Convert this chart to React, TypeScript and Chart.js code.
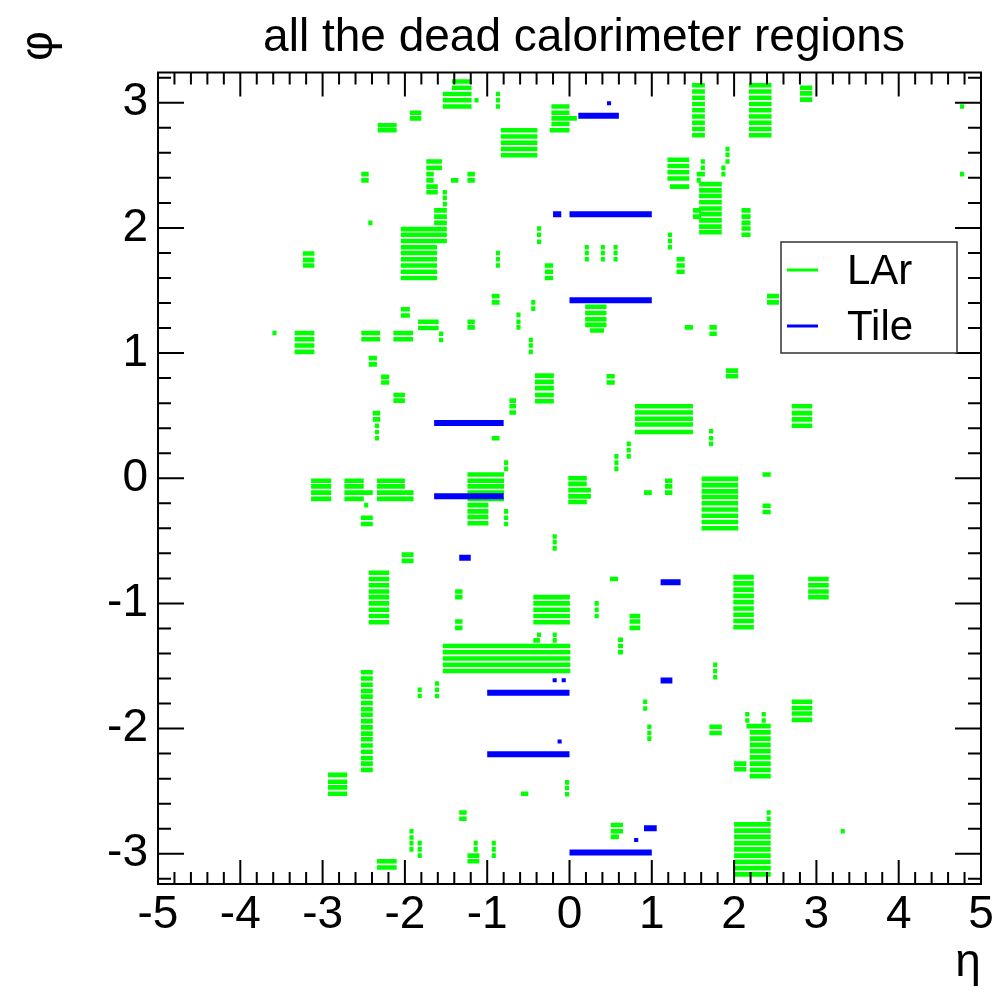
import React, { useEffect, useRef } from "react";
import { Chart, registerables } from "chart.js";

Chart.register(...registerables);

const FONT = '"Liberation Sans", Arial, Helvetica, sans-serif';

// Dead LAr cells, grouped in rectangles: [etaMin, etaMax, phi of each dead row ...]
const larUpper: number[][] = [
  [-1.94, -1.8, 2.92, 2.875],
  [-2.33, -2.1, 2.82, 2.78],
  [-1.74, -1.55, 2.53, 2.48],
  [-1.74, -1.65, 2.43, 2.38],
  [-1.74, -1.6, 2.33, 2.285],
  [-2.53, -2.44, 2.43, 2.38],
  [-2.445, -2.395, 2.04],
  [-1.54, -1.49, 2.285, 2.24, 2.19],
  [-1.645, -1.49, 2.14, 2.09, 2.04],
  [-2.05, -1.49, 1.99, 1.945, 1.895],
  [-2.05, -1.61, 1.845, 1.8, 1.75, 1.7, 1.65, 1.6],
  [-3.24, -3.1, 1.795, 1.745, 1.7],
  [-1.43, -1.19, 3.17, 3.12],
  [-1.54, -1.19, 3.07, 3.02, 2.97],
  [-1.155, -1.105, 3.02],
  [-0.895, -0.845, 3.07, 3.02, 2.97],
  [-0.22, 0.0, 2.97, 2.92],
  [-0.22, 0.09, 2.875],
  [-0.22, 0.0, 2.83],
  [-0.24, 0.0, 2.78],
  [-0.835, -0.39, 2.78, 2.73, 2.68, 2.63, 2.58],
  [-1.24, -1.15, 2.43, 2.38],
  [-1.44, -1.35, 2.38],
  [-0.395, -0.345, 1.995, 1.945, 1.89],
  [0.185, 0.235, 1.845, 1.8, 1.75],
  [0.38, 0.43, 1.845, 1.8, 1.75],
  [0.535, 0.585, 1.845, 1.8, 1.75],
  [-0.895, -0.845, 1.8, 1.75, 1.7],
  [-0.3, -0.2, 1.7, 1.65, 1.6],
  [1.195, 1.245, 1.945, 1.895, 1.845],
  [1.3, 1.4, 1.75, 1.7, 1.65],
  [1.19, 1.455, 2.545, 2.495, 2.445, 2.395],
  [1.22, 1.455, 2.33],
  [1.595, 1.645, 2.53, 2.48, 2.43],
  [1.545, 1.595, 2.43, 2.38],
  [1.575, 1.85, 2.35, 2.3, 2.255, 2.205, 2.155, 2.11, 2.06, 2.01, 1.965],
  [1.5, 1.6, 2.14, 2.09],
  [1.49, 1.645, 3.14, 3.09, 3.04, 2.99, 2.94, 2.89, 2.84, 2.79, 2.74],
  [2.18, 2.455, 3.14, 3.09, 3.04, 2.99, 2.94, 2.89, 2.84, 2.79, 2.74],
  [2.8, 2.95, 3.12, 3.075, 3.025],
  [4.745, 4.795, 2.97],
  [4.745, 4.795, 2.43],
  [1.895, 1.945, 2.63, 2.585, 2.53],
  [1.845, 1.895, 2.48, 2.43],
  [2.09, 2.2, 2.14, 2.09, 2.04, 1.995, 1.945],
];

const larMiddle: number[][] = [
  [-2.05, -1.94, 1.35, 1.3],
  [-1.84, -1.59, 1.25, 1.2],
  [-1.585, -1.535, 1.155, 1.105],
  [-3.61, -3.56, 1.16],
  [-3.34, -3.1, 1.16, 1.11, 1.06, 1.01],
  [-2.53, -2.3, 1.16, 1.11],
  [-2.14, -1.9, 1.16, 1.11],
  [0.19, 0.45, 1.37, 1.32, 1.27, 1.225],
  [0.25, 0.42, 1.18],
  [-0.945, -0.85, 1.455, 1.405],
  [-0.465, -0.415, 1.405, 1.355],
  [-0.645, -0.595, 1.305, 1.25, 1.205],
  [-1.24, -1.15, 1.25, 1.205],
  [-0.495, -0.445, 1.105, 1.06, 1.01],
  [1.4, 1.5, 1.205],
  [1.7, 1.79, 1.205, 1.155],
  [2.4, 2.545, 1.455, 1.405],
  [-2.44, -2.34, 0.96, 0.91],
  [-2.29, -2.19, 0.81, 0.765],
  [-2.14, -2.0, 0.665, 0.62],
  [-2.39, -2.3, 0.52, 0.47],
  [-2.365, -2.315, 0.42, 0.37, 0.32],
  [-0.42, -0.19, 0.82, 0.77, 0.72, 0.665, 0.615],
  [0.45, 0.55, 0.815, 0.765],
  [-0.73, -0.65, 0.62, 0.575, 0.525],
  [-0.945, -0.85, 0.32],
  [0.795, 1.5, 0.575, 0.525, 0.475, 0.43, 0.37],
  [1.695, 1.745, 0.375, 0.32, 0.275],
  [0.695, 0.745, 0.275, 0.225, 0.175],
  [0.545, 0.595, 0.175, 0.125, 0.075],
  [-0.795, -0.745, 0.125, 0.075],
  [1.9, 2.05, 0.86, 0.815],
  [2.7, 2.95, 0.575, 0.52, 0.47, 0.42],
  [2.345, 2.445, 0.03],
];

const larLower: number[][] = [
  [-3.14, -2.895, -0.02, -0.065, -0.115, -0.165],
  [-2.735, -2.5, -0.02, -0.065, -0.165],
  [-2.735, -2.39, -0.115],
  [-2.495, -2.445, -0.215],
  [-2.34, -2.0, -0.02, -0.065],
  [-2.34, -1.895, -0.115, -0.165],
  [-2.535, -2.39, -0.315, -0.365],
  [-2.04, -1.895, -0.61, -0.66],
  [-2.44, -2.19, -0.755, -0.805, -0.855, -0.905, -0.95, -1.0, -1.05, -1.1, -1.15],
  [-1.24, -0.795, 0.03, -0.02, -0.065, -0.115, -0.165],
  [-1.24, -0.985, -0.215, -0.265, -0.31, -0.36],
  [-0.795, -0.745, -0.265, -0.315, -0.365],
  [-0.015, 0.21, 0.0, -0.045, -0.19],
  [-0.015, 0.26, -0.095, -0.145],
  [0.905, 1.0, -0.115],
  [1.16, 1.25, -0.02, -0.065, -0.115],
  [1.605, 2.05, -0.005, -0.055, -0.105, -0.15, -0.2, -0.25, -0.3, -0.35, -0.4],
  [2.345, 2.445, -0.22, -0.27],
  [-0.205, -0.155, -0.465, -0.51, -0.56],
  [0.49, 0.59, -0.805],
  [-1.39, -1.3, -0.905, -0.95],
  [-0.44, 0.005, -0.95, -1.0, -1.05, -1.1, -1.15],
  [0.305, 0.355, -1.0, -1.05, -1.1],
  [0.73, 0.86, -1.1, -1.145, -1.195],
  [-1.39, -1.3, -1.145, -1.195],
  [1.99, 2.24, -0.79, -0.84, -0.89, -0.94, -0.99, -1.04, -1.09, -1.14, -1.19],
  [2.9, 3.15, -0.805, -0.855, -0.905, -0.95],
];

const larBottom: number[][] = [
  [-2.535, -2.39, -1.55, -1.6, -1.65, -1.7, -1.745, -1.795, -1.845, -1.89, -1.94, -1.99, -2.04, -2.085, -2.135, -2.185, -2.235, -2.28, -2.33],
  [-2.935, -2.7, -2.37, -2.425, -2.47, -2.52],
  [-1.945, -1.895, -2.82, -2.87, -2.915, -2.965],
  [-1.845, -1.795, -2.915, -2.965, -3.015],
  [-1.845, -1.795, -1.69, -1.74],
  [-1.635, -1.585, -1.64, -1.69, -1.74],
  [-2.34, -2.1, -3.06, -3.11],
  [-0.395, -0.345, -1.25],
  [-0.205, -0.155, -1.25, -1.295],
  [-0.44, -0.36, -1.295],
  [-1.54, 0.01, -1.34, -1.39, -1.44, -1.49, -1.54],
  [0.59, 0.65, -1.29, -1.34, -1.39],
  [1.745, 1.795, -1.49, -1.54, -1.59],
  [0.895, 0.945, -1.785, -1.84],
  [0.945, 0.995, -1.985, -2.035, -2.08],
  [1.7, 1.85, -1.985, -2.035],
  [-0.055, -0.005, -2.43, -2.475, -2.525],
  [-0.59, -0.5, -2.52],
  [-1.34, -1.25, -2.67, -2.72],
  [0.5, 0.65, -2.77, -2.82],
  [0.5, 0.6, -2.865],
  [-1.165, -1.115, -2.915, -2.965],
  [-0.945, -0.895, -2.915, -2.965, -3.015],
  [-1.24, -1.095, -3.015, -3.06],
  [2.0, 2.15, -2.28, -2.325],
  [2.135, 2.185, -1.885, -1.935],
  [2.335, 2.385, -1.885, -1.935],
  [2.15, 2.445, -1.98],
  [2.19, 2.445, -2.03, -2.08, -2.13, -2.18, -2.23, -2.28, -2.33, -2.38],
  [2.7, 2.95, -1.785, -1.835, -1.88, -1.93],
  [2.395, 2.445, -2.67, -2.72],
  [2.0, 2.445, -2.765, -2.815, -2.865, -2.915, -2.965, -3.015, -3.065, -3.115, -3.165],
  [3.295, 3.345, -2.82],
];

// Dead Tile cells: [etaMin, etaMax, phi]
const tileRows: number[][] = [
  [0.107, 0.6, 2.896],
  [-0.2, -0.1, 2.109],
  [0.0, 1.0, 2.109],
  [0.0, 1.0, 1.423],
  [-1.645, -0.8, 0.441],
  [-1.645, -0.8, -0.144],
  [-1.34, -1.2, -0.636],
  [1.107, 1.35, -0.83],
  [1.107, 1.25, -1.615],
  [-1.0, 0.0, -1.714],
  [-1.0, 0.0, -2.206],
  [0.905, 1.06, -2.797],
  [0.0, 1.0, -2.99],
];

const tileCells: number[][] = [
  [0.455, 0.505, 2.995],
  [-0.205, -0.155, -1.613],
  [-0.095, -0.045, -1.613],
  [-0.145, -0.095, -2.104],
  [0.785, 0.835, -2.89],
];

const etaTicks = [-5, -4, -3, -2, -1, 0, 1, 2, 3, 4, 5];
const phiTicks = [-3, -2, -1, 0, 1, 2, 3];
const ETA_MIN = -5;
const ETA_MAX = 5;
const PHI_MIN = -3.2416;
const PHI_MAX = 3.2416;

const legendItems = [
  { label: "LAr", color: "#00ff00" },
  { label: "Tile", color: "#0000ff" },
];

type Pt = { x: number; y: number | null };

// Each dead row becomes one horizontal stroke; a null point breaks the line.
function blockRows(blocks: number[][]): Pt[] {
  const pts: Pt[] = [];
  for (const [eta0, eta1, ...phis] of blocks) {
    for (const phi of phis) {
      pts.push({ x: eta0, y: phi }, { x: eta1, y: phi }, { x: eta1, y: null });
    }
  }
  return pts;
}

const rootFrame = {
  id: "rootFrame",
  afterDatasetsDraw(chart: any) {
    const { ctx, chartArea: a } = chart;
    const xs = chart.scales.x;
    const ys = chart.scales.y;
    ctx.save();
    ctx.strokeStyle = "#000";
    ctx.lineWidth = 2;
    ctx.beginPath();
    for (let i = -25; i <= 25; i++) {
      const px = xs.getPixelForValue(i / 5);
      const len = i % 5 === 0 ? 24 : 12;
      ctx.moveTo(px, a.top);
      ctx.lineTo(px, a.top + len);
      ctx.moveTo(px, a.bottom);
      ctx.lineTo(px, a.bottom - len);
    }
    for (let i = -16; i <= 16; i++) {
      const py = ys.getPixelForValue(i / 5);
      const len = i % 5 === 0 ? 26 : 13;
      ctx.moveTo(a.left, py);
      ctx.lineTo(a.left + len, py);
      ctx.moveTo(a.right, py);
      ctx.lineTo(a.right - len, py);
    }
    ctx.stroke();
    ctx.strokeRect(a.left, a.top, a.right - a.left, a.bottom - a.top);
    ctx.restore();
  },
  afterDraw(chart: any) {
    const { ctx } = chart;
    ctx.save();
    ctx.fillStyle = "#000";
    // title
    ctx.font = `46px ${FONT}`;
    ctx.textAlign = "center";
    ctx.textBaseline = "alphabetic";
    ctx.fillText("all the dead calorimeter regions", 584, 51);
    // axis titles
    ctx.fillText("η", 968, 976);
    ctx.save();
    ctx.translate(52, 46);
    ctx.rotate(-Math.PI / 2);
    ctx.textAlign = "center";
    ctx.fillText("φ", 0, 0);
    ctx.restore();
    // legend
    const bx = 781, by = 242, bw = 176, bh = 111;
    ctx.fillStyle = "#fff";
    ctx.fillRect(bx, by, bw, bh);
    ctx.strokeStyle = "#333";
    ctx.lineWidth = 1.5;
    ctx.strokeRect(bx, by, bw, bh);
    ctx.font = `42px ${FONT}`;
    ctx.textAlign = "left";
    legendItems.forEach((item, i) => {
      const cy = 270 + i * 56;
      ctx.strokeStyle = item.color;
      ctx.lineWidth = 3;
      ctx.beginPath();
      ctx.moveTo(787, cy);
      ctx.lineTo(818, cy);
      ctx.stroke();
      ctx.fillStyle = "#000";
      ctx.fillText(item.label, 847, cy + 14);
    });
    ctx.restore();
  },
};

export default function App() {
  const canvasRef = useRef<HTMLCanvasElement | null>(null);

  useEffect(() => {
    if (!canvasRef.current) return;
    const larPoints = [
      ...blockRows(larUpper),
      ...blockRows(larMiddle),
      ...blockRows(larLower),
      ...blockRows(larBottom),
    ];
    const tickFont = { family: FONT, size: 46 };
    const chart = new Chart(canvasRef.current, {
      type: "scatter",
      data: {
        datasets: [
          {
            label: "Tile",
            data: blockRows(tileRows),
            showLine: true,
            spanGaps: false,
            borderColor: "#0000ff",
            backgroundColor: "#0000ff",
            borderWidth: 6,
            borderCapStyle: "butt",
            pointRadius: 0,
            order: 1,
          },
          {
            label: "Tile cells",
            data: blockRows(tileCells),
            showLine: true,
            spanGaps: false,
            borderColor: "#0000ff",
            backgroundColor: "#0000ff",
            borderWidth: 4,
            borderCapStyle: "butt",
            pointRadius: 0,
            order: 2,
          },
          {
            label: "LAr",
            data: larPoints,
            showLine: true,
            spanGaps: false,
            borderColor: "#00ff00",
            backgroundColor: "#00ff00",
            borderWidth: 4.6,
            borderCapStyle: "butt",
            pointRadius: 0,
            order: 3,
          },
        ],
      } as any,
      options: {
        responsive: false,
        animation: false,
        events: [],
        layout: { padding: { left: 0, right: 23, top: 72.5, bottom: 0 } },
        plugins: {
          legend: { display: false },
          tooltip: { enabled: false },
          title: { display: false },
        },
        scales: {
          x: {
            type: "linear",
            min: ETA_MIN,
            max: ETA_MAX,
            grid: { display: false, drawTicks: false },
            border: { display: false },
            afterBuildTicks: (axis: any) => {
              axis.ticks = etaTicks.map((value) => ({ value }));
            },
            afterFit: (axis: any) => {
              axis.height = 110;
            },
            ticks: {
              font: tickFont,
              color: "#000",
              padding: 4,
              autoSkip: false,
              maxRotation: 0,
              callback: (v: any) => String(v),
            },
          },
          y: {
            type: "linear",
            min: PHI_MIN,
            max: PHI_MAX,
            grid: { display: false, drawTicks: false },
            border: { display: false },
            afterBuildTicks: (axis: any) => {
              axis.ticks = phiTicks.map((value) => ({ value }));
            },
            afterFit: (axis: any) => {
              axis.width = 158;
            },
            ticks: {
              font: tickFont,
              color: "#000",
              padding: 10,
              autoSkip: false,
              callback: (v: any) => String(v),
            },
          },
        },
      } as any,
      plugins: [rootFrame],
    });
    return () => chart.destroy();
  }, []);

  return (
    <div style={{ position: "absolute", left: 0, top: 0, width: 1004, height: 994, background: "#fff" }}>
      <canvas ref={canvasRef} width={1004} height={994} />
    </div>
  );
}
